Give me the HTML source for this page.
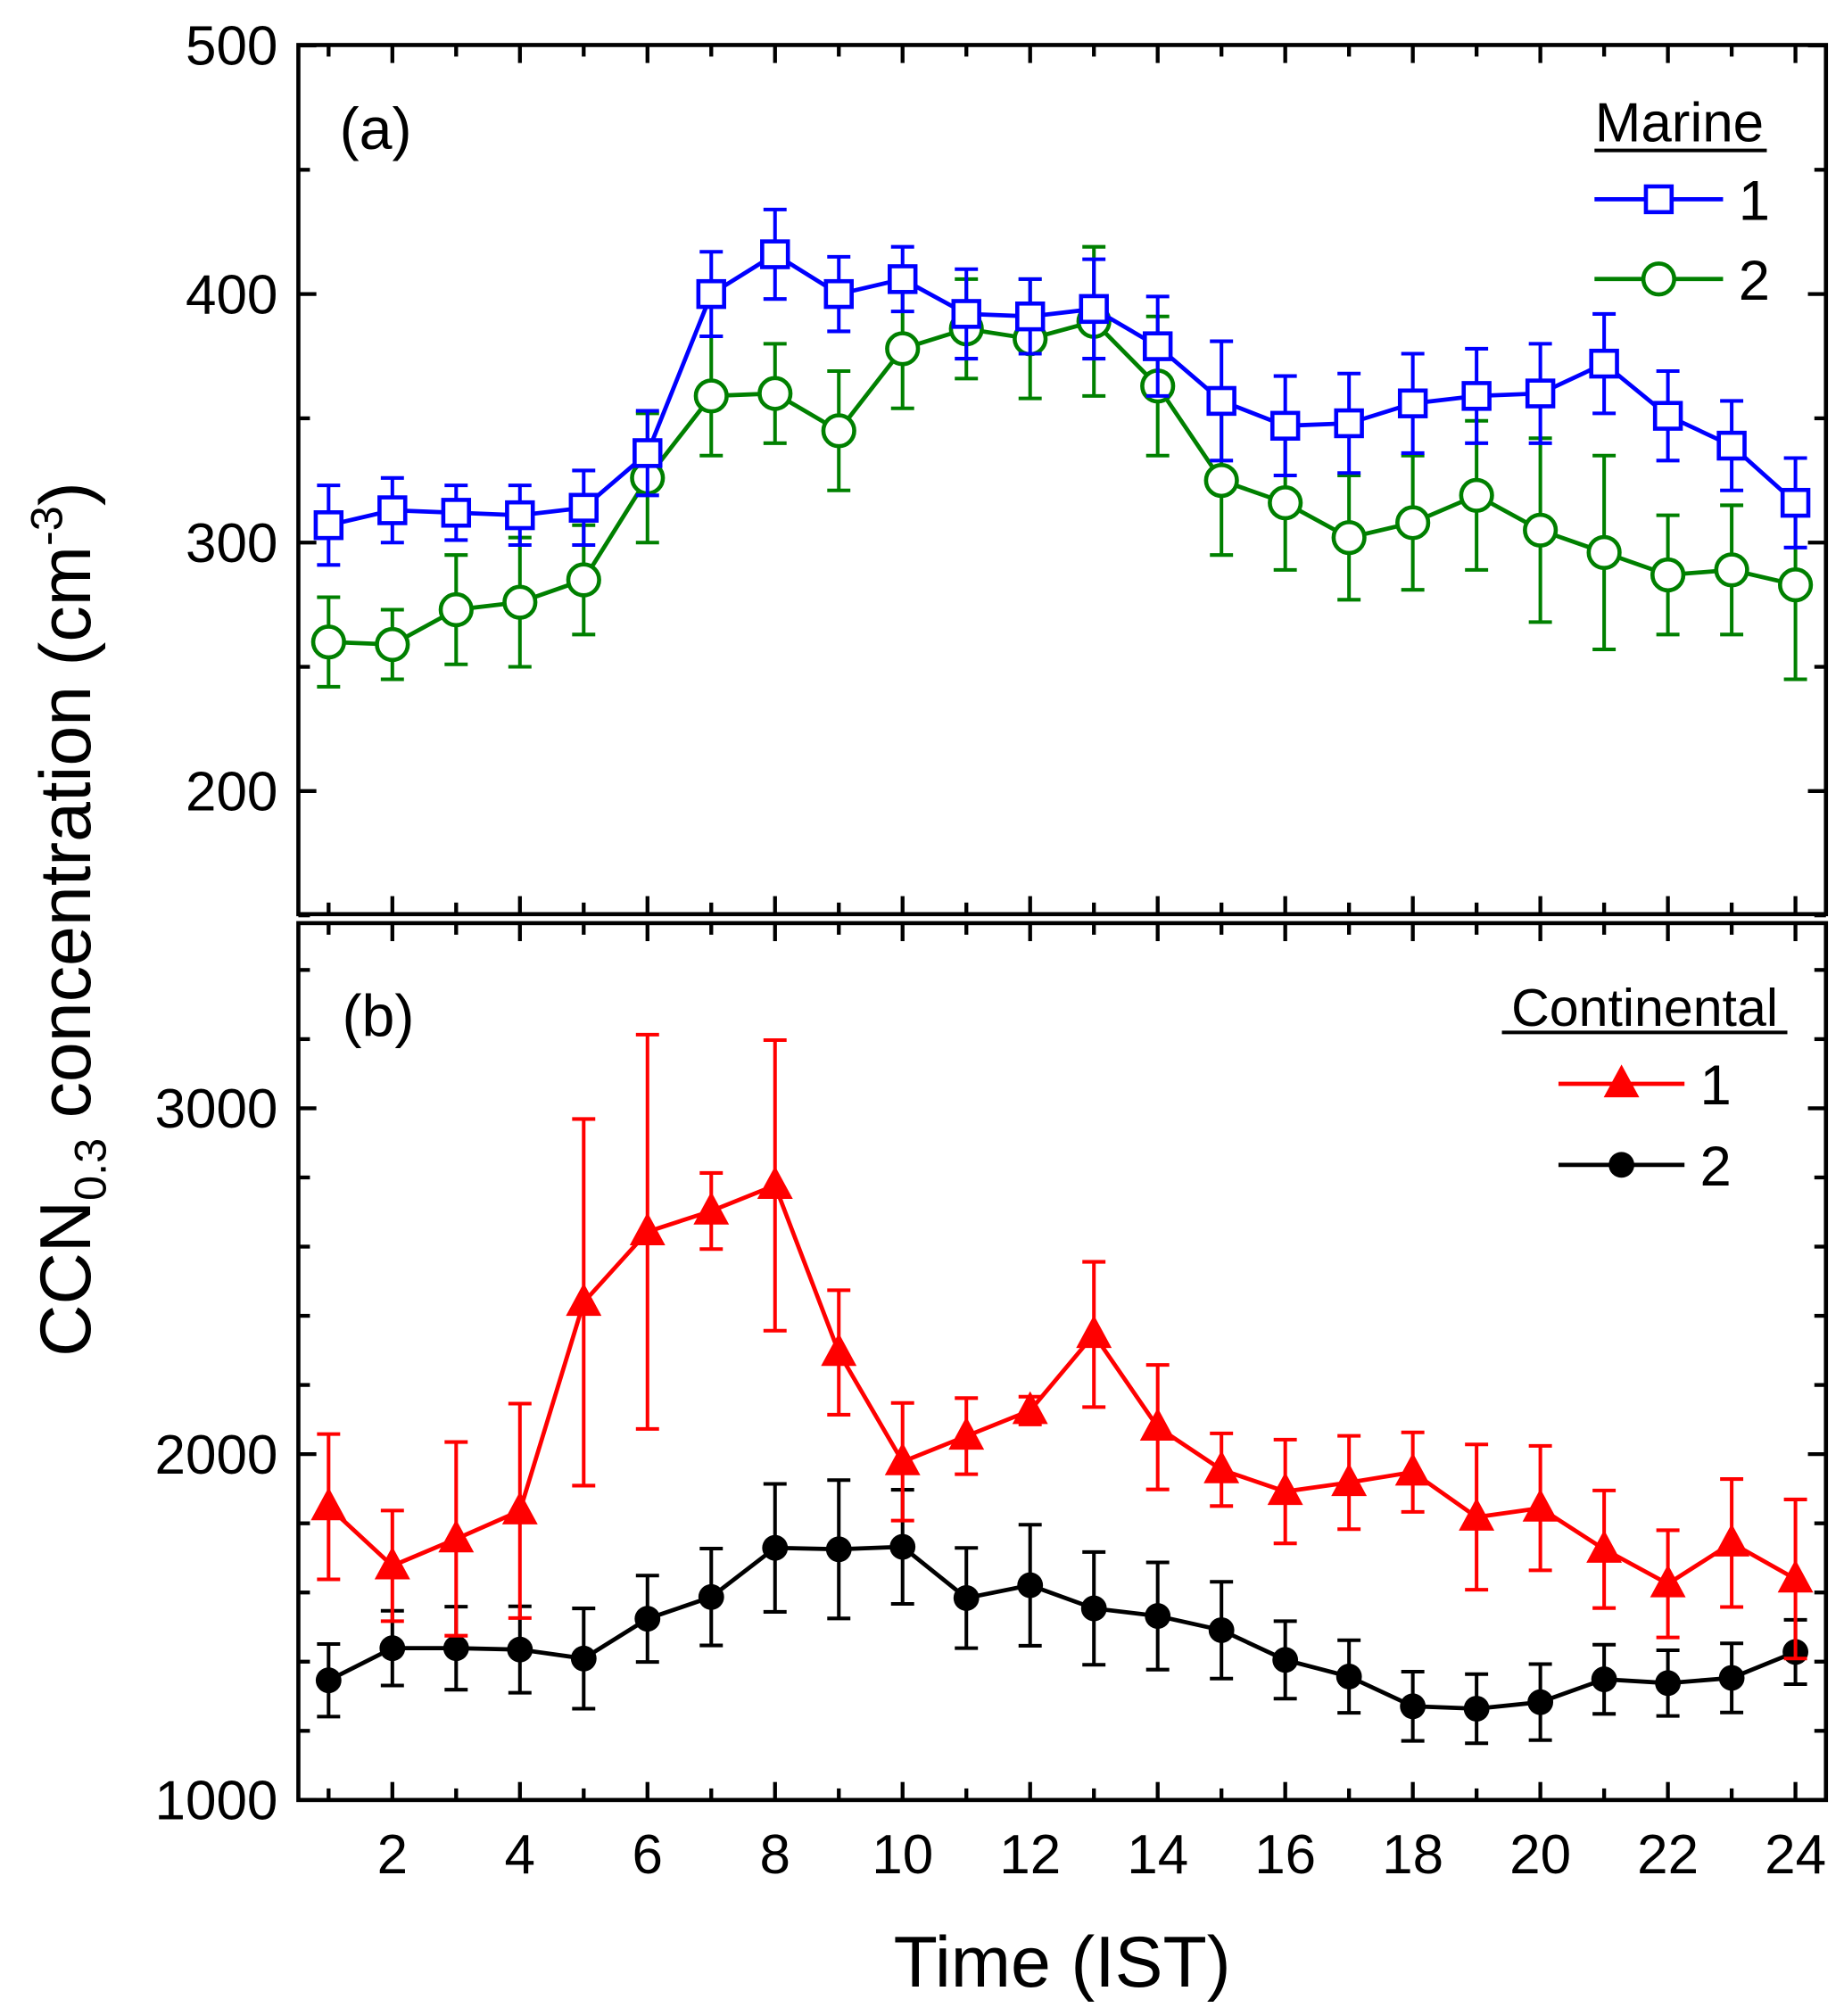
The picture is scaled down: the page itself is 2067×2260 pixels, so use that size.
<!DOCTYPE html>
<html><head><meta charset="utf-8"><style>
html,body{margin:0;padding:0;background:#fff;}
svg{display:block;font-family:"Liberation Sans",sans-serif;}
</style></head><body>
<svg id="chart" width="2067" height="2260" viewBox="0 0 1434 1568" xmlns="http://www.w3.org/2000/svg">
<rect width="1434" height="1568" fill="#fff"/>
<g id="g"></g>
</svg>
<script>
const hours=[1,2,3,4,5,6,7,8,9,10,11,12,13,14,15,16,17,18,19,20,21,22,23,24];
const marine1=[307,313,312,311,314,336,400,416,400,406,392,391,394,379,357,347,348,356,359,360,372,351,339,316];
const marine1Err=[16,13,11,12,15,17,17,18,15,13,18,15,20,20,24,20,20,20,19,20,20,18,18,18];
const marine2=[260,259,273,276,285,326,359,360,345,378,386,382,389,363,325,316,302,308,319,305,296,287,289,283];
const marine2Err=[18,14,22,26,22,26,24,20,24,24,20,24,30,28,30,27,25,27,30,37,39,24,26,38];
const cont1=[1848,1677,1755,1836,2439,2643,2703,2777,2294,1978,2052,2126,2346,2078,1955,1892,1918,1948,1818,1844,1725,1625,1743,1639];
const cont1Err=[210,160,280,310,530,570,110,420,180,170,110,40,210,180,105,150,135,115,210,180,170,155,185,230];
const cont2=[1346,1439,1439,1435,1409,1524,1587,1729,1725,1732,1584,1621,1554,1532,1491,1405,1357,1271,1264,1283,1349,1338,1353,1428];
const cont2Err=[105,108,120,125,145,125,140,185,200,165,145,175,163,155,140,112,105,100,100,110,100,95,100,93];
const xTickLabels=[2,4,6,8,10,12,14,16,18,20,22,24];
const aTickLabels=[200,300,400,500];
const bTickLabels=[1000,2000,3000];

const NS="http://www.w3.org/2000/svg";
const g=document.getElementById('g');
function mk(tag,attrs,parent){const e=document.createElementNS(NS,tag);for(const k in attrs)e.setAttribute(k,attrs[k]);(parent||g).appendChild(e);return e;}
const X0=232,X1=1420;
const xs=h=>255.5+(h-1)*49.6;
const yA=v=>422-(v-300)*1.933;
const yB=v=>1400-(v-1000)*0.269;
const A={top:35,bot:711}, B={top:718,bot:1400};

function frame(P,name){
  const r=mk('rect',{x:X0,y:P.top,width:X1-X0,height:P.bot-P.top,fill:'none',stroke:'#000','stroke-width':3.2});
  
  
  for(let h=1;h<=24;h++){
    const L=h%2===0?14:9, x=xs(h);
    mk('line',{x1:x,x2:x,y1:P.bot,y2:P.bot-L,stroke:'#000','stroke-width':3});
    mk('line',{x1:x,x2:x,y1:P.top,y2:P.top+L,stroke:'#000','stroke-width':3});
  }
}
frame(A,'panel-a-frame');frame(B,'panel-b-frame');
for(let v=150;v<=500;v+=50){const y=yA(v);if(y<A.top-1||y>A.bot+1)continue;const L=v%100===0?14:9;
  mk('line',{x1:X0,x2:X0+L,y1:y,y2:y,stroke:'#000','stroke-width':3});mk('line',{x1:X1,x2:X1-L,y1:y,y2:y,stroke:'#000','stroke-width':3});}
for(let v=1000;v<=3400;v+=200){const y=yB(v);const L=v%1000===0?14:9;
  mk('line',{x1:X0,x2:X0+L,y1:y,y2:y,stroke:'#000','stroke-width':3});mk('line',{x1:X1,x2:X1-L,y1:y,y2:y,stroke:'#000','stroke-width':3});}
function txt(s,attrs,name){const t=mk('text',attrs);t.textContent=s;return t;}
aTickLabels.forEach(v=>txt(v,{x:216,y:yA(v)+15,'font-size':43,'text-anchor':'end'},'y-tick-a-'+v));
bTickLabels.forEach(v=>txt(v,{x:216,y:yB(v)+15,'font-size':43,'text-anchor':'end'},'y-tick-b-'+v));
xTickLabels.forEach(v=>txt(v,{x:xs(v),y:1457,'font-size':43,'text-anchor':'middle'},'x-tick-'+v));
txt('Time (IST)',{x:826,y:1545,'font-size':56,'text-anchor':'middle'},'x-axis-title');
const yt=txt('',{transform:'translate(70,715) rotate(-90)','font-size':56,'text-anchor':'middle'},'y-axis-title');
yt.innerHTML='CCN<tspan font-size="35" dy="12">0.3</tspan><tspan dy="-12"> concentration (cm</tspan><tspan font-size="35" dy="-22">-3</tspan><tspan dy="22">)</tspan>';
txt('(a)',{x:264,y:116,'font-size':46},'panel-a-label');
txt('(b)',{x:266,y:806,'font-size':46},'panel-b-label');

function marker(type,x,y,color,name){
  let e;
  if(type==='sq')e=mk('rect',{x:x-10,y:y-10,width:20,height:20,fill:'#fff',stroke:color,'stroke-width':3.2});
  else if(type==='oc')e=mk('circle',{cx:x,cy:y,r:12,fill:'#fff',stroke:color,'stroke-width':3.2});
  else if(type==='tri')e=mk('polygon',{points:`${x},${y-14} ${x+13},${y+10} ${x-13},${y+10}`,fill:color,stroke:color,'stroke-width':1});
  else e=mk('circle',{cx:x,cy:y,r:10,fill:color});
  
  
}
function series(vals,errs,ys,color,type,name){
  const grp=mk('g',{});
  
  
  vals.forEach((v,i)=>{const x=xs(hours[i]);const t=ys(v+errs[i]),b=ys(v-errs[i]);
    mk('line',{x1:x,x2:x,y1:t,y2:b,stroke:color,'stroke-width':2.8},grp);
    mk('line',{x1:x-9,x2:x+9,y1:t,y2:t,stroke:color,'stroke-width':2.8},grp);
    mk('line',{x1:x-9,x2:x+9,y1:b,y2:b,stroke:color,'stroke-width':2.8},grp);});
  mk('polyline',{points:vals.map((v,i)=>xs(hours[i])+','+ys(v)).join(' '),fill:'none',stroke:color,'stroke-width':3.3},grp);
  vals.forEach((v,i)=>marker(type,xs(hours[i]),ys(v),color,name+'-point-'+hours[i]));
}
series(marine2,marine2Err,yA,'#008000','oc','marine-2');
series(marine1,marine1Err,yA,'#0000ff','sq','marine-1');
series(cont2,cont2Err,yB,'#000','fc','continental-2');
series(cont1,cont1Err,yB,'#ff0000','tri','continental-1');

txt('Marine',{x:1306,y:110,'font-size':43,'text-anchor':'middle'},'legend-a-title');
mk('line',{x1:1240,x2:1374,y1:117,y2:117,stroke:'#000','stroke-width':2.8});
function legEntry(x1,x2,y,color,type,label,name){
  mk('line',{x1:x1,x2:x2,y1:y,y2:y,stroke:color,'stroke-width':3.3});
  marker(type,(x1+x2)/2,y,color,name+'-marker');
  txt(label,{x:x2+12,y:y+16,'font-size':44},name);
}
legEntry(1240,1340,155,'#0000ff','sq','1','legend-marine-1');
legEntry(1240,1340,217,'#008000','oc','2','legend-marine-2');
txt('Continental',{x:1279,y:798,'font-size':41,'text-anchor':'middle'},'legend-b-title');
mk('line',{x1:1168,x2:1390,y1:803,y2:803,stroke:'#000','stroke-width':2.8});
legEntry(1212,1310,843,'#ff0000','tri','1','legend-continental-1');
legEntry(1212,1310,906,'#000','fc','2','legend-continental-2');
</script>
</body></html>
